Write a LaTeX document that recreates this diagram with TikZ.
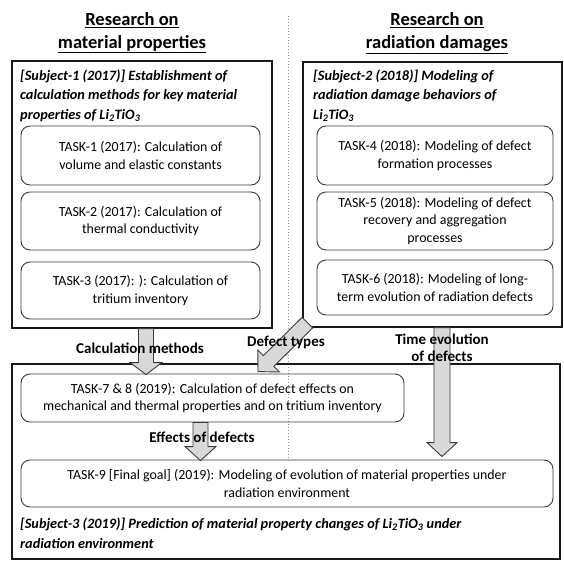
\documentclass[tikz,border=0pt]{standalone}
\usepackage{fontspec}
\setmainfont{Carlito}
\usetikzlibrary{calc}
\definecolor{arrfill}{HTML}{D9D9D9}
\definecolor{edge}{HTML}{3A3A3A}
\newcommand\blockarrow[5]{%
  \coordinate (ba-h) at ($(#2)!#5!(#1)$);
  \filldraw[blockarr] ($(#1)!#3!90:(#2)$) -- ($(ba-h)!#3!90:(#2)$) -- ($(ba-h)!#4!90:(#2)$) -- (#2)
    -- ($(ba-h)!#4!-90:(#2)$) -- ($(ba-h)!#3!-90:(#2)$) -- ($(#1)!#3!-90:(#2)$) -- cycle;
}
\begin{document}
\begin{tikzpicture}[x=1pt,y=-1pt,
  bigbox/.style={draw=black!90, line width=1.3pt, minimum width=#1, inner sep=0pt},
  taskbox/.style={draw=edge, line width=0.9pt, rounded corners=9pt, inner sep=0pt, align=center,
     font=\fontsize{13.9}{17.2}\selectfont},
  subj/.style={anchor=north west, inner sep=0pt, align=left, font=\fontsize{14.3}{19.2}\selectfont\bfseries\itshape},
  title/.style={align=center, inner sep=0pt, font=\fontsize{18.5}{22.5}\selectfont\bfseries},
  lbl/.style={align=center, inner sep=0pt, font=\fontsize{15}{17}\selectfont\bfseries},
  blockarr/.style={fill=arrfill, draw=edge, line width=0.9pt, line join=miter},
  dotline/.style={draw=gray!80, line width=1pt, dotted}]
\useasboundingbox (0,0) rectangle (564,562);

% titles
\node[title] (t1) at (132,33) {\underline{Research on}\\\underline{material properties}};
\node[title] (t2) at (437,33) {\underline{Research on}\\\underline{radiation damages}};

% dotted separator
\coordinate (dtop) at (288,16);
\coordinate (dbot) at (288,460);
\draw[dotline] (dtop) -- (dbot);

% subject boxes
\node[bigbox=260pt, minimum height=267pt] (sub1) at (142,194.5) {};
\node[subj] (s1t) at (20,70) {[Subject-1 (2017)] Establishment of\\calculation methods for key material\\properties of Li\textsubscript{2}TiO\textsubscript{3}};

\node[bigbox=259pt, minimum height=265pt] (sub2) at (432.5,194.5) {};
\node[subj] (s2t) at (313,70) {[Subject-2 (2018)] Modeling of\\radiation damage behaviors of\\Li\textsubscript{2}TiO\textsubscript{3}};

\node[bigbox=548pt, minimum height=195pt] (sub3) at (286,461.5) {};

% tasks
\node[taskbox, minimum width=239pt, minimum height=59pt] (k1) at (140.5,155.5) {TASK-1 (2017): Calculation of\\volume and elastic constants};
\node[taskbox, minimum width=239pt, minimum height=58pt] (k2) at (140.5,221) {TASK-2 (2017): Calculation of\\thermal conductivity};
\node[taskbox, minimum width=239pt, minimum height=57pt] (k3) at (140.5,290.5) {TASK-3 (2017): ): Calculation of\\tritium inventory};

\node[taskbox, minimum width=236pt, minimum height=59pt] (k4) at (435,155.5) {TASK-4 (2018): Modeling of defect\\formation processes};
\node[taskbox, minimum width=236pt, minimum height=58pt] (k5) at (435,221) {TASK-5 (2018): Modeling of defect\\recovery and aggregation\\processes};
\node[taskbox, minimum width=236pt, minimum height=55pt] (k6) at (435,287.5) {TASK-6 (2018): Modeling of long-\\term evolution of radiation defects};

\node[taskbox, minimum width=383pt, minimum height=48pt] (k7) at (212.5,398) {TASK-7 \& 8 (2019): Calculation of defect effects on\\mechanical and thermal properties and on tritium inventory};
\node[taskbox, minimum width=532pt, minimum height=47pt] (k9) at (287,483.5) {TASK-9 [Final goal] (2019): Modeling of evolution of material properties under\\radiation environment};

\node[subj] (s3t) at (20,518) {[Subject-3 (2019)] Prediction of material property changes of Li\textsubscript{2}TiO\textsubscript{3} under\\radiation environment};

% block arrows
\coordinate (a1s) at ($(sub1.south)+(4,0)$);
\coordinate (a1e) at ($(k7.north)+(-66.5,1)$);
\blockarrow{a1s}{a1e}{7.5pt}{16pt}{12pt}

\coordinate (a2s) at ($(sub2.south west)+(5,-5)$);
\coordinate (a2e) at ($(k7.north)+(45.5,-2)$);
\blockarrow{a2s}{a2e}{7.5pt}{15.5pt}{15pt}

\coordinate (a3s) at ($(sub2.south)+(9.5,0)$);
\coordinate (a3e) at ($(k9.north)+(155,-3)$);
\blockarrow{a3s}{a3e}{8pt}{15pt}{14pt}

\coordinate (a4s) at ($(k7.south)+(-12,0)$);
\coordinate (a4e) at ($(k9.north)+(-86.5,1)$);
\blockarrow{a4s}{a4e}{7.5pt}{15.5pt}{14pt}

% arrow labels
\node[lbl] (l1) at (140,348) {Calculation methods};
\node[lbl] (l2) at (286,342) {Defect types};
\node[lbl] (l3) at (442,347.5) {Time evolution\\of defects};
\node[lbl] (l4) at (202,437) {Effects of defects};
\end{tikzpicture}
\end{document}
